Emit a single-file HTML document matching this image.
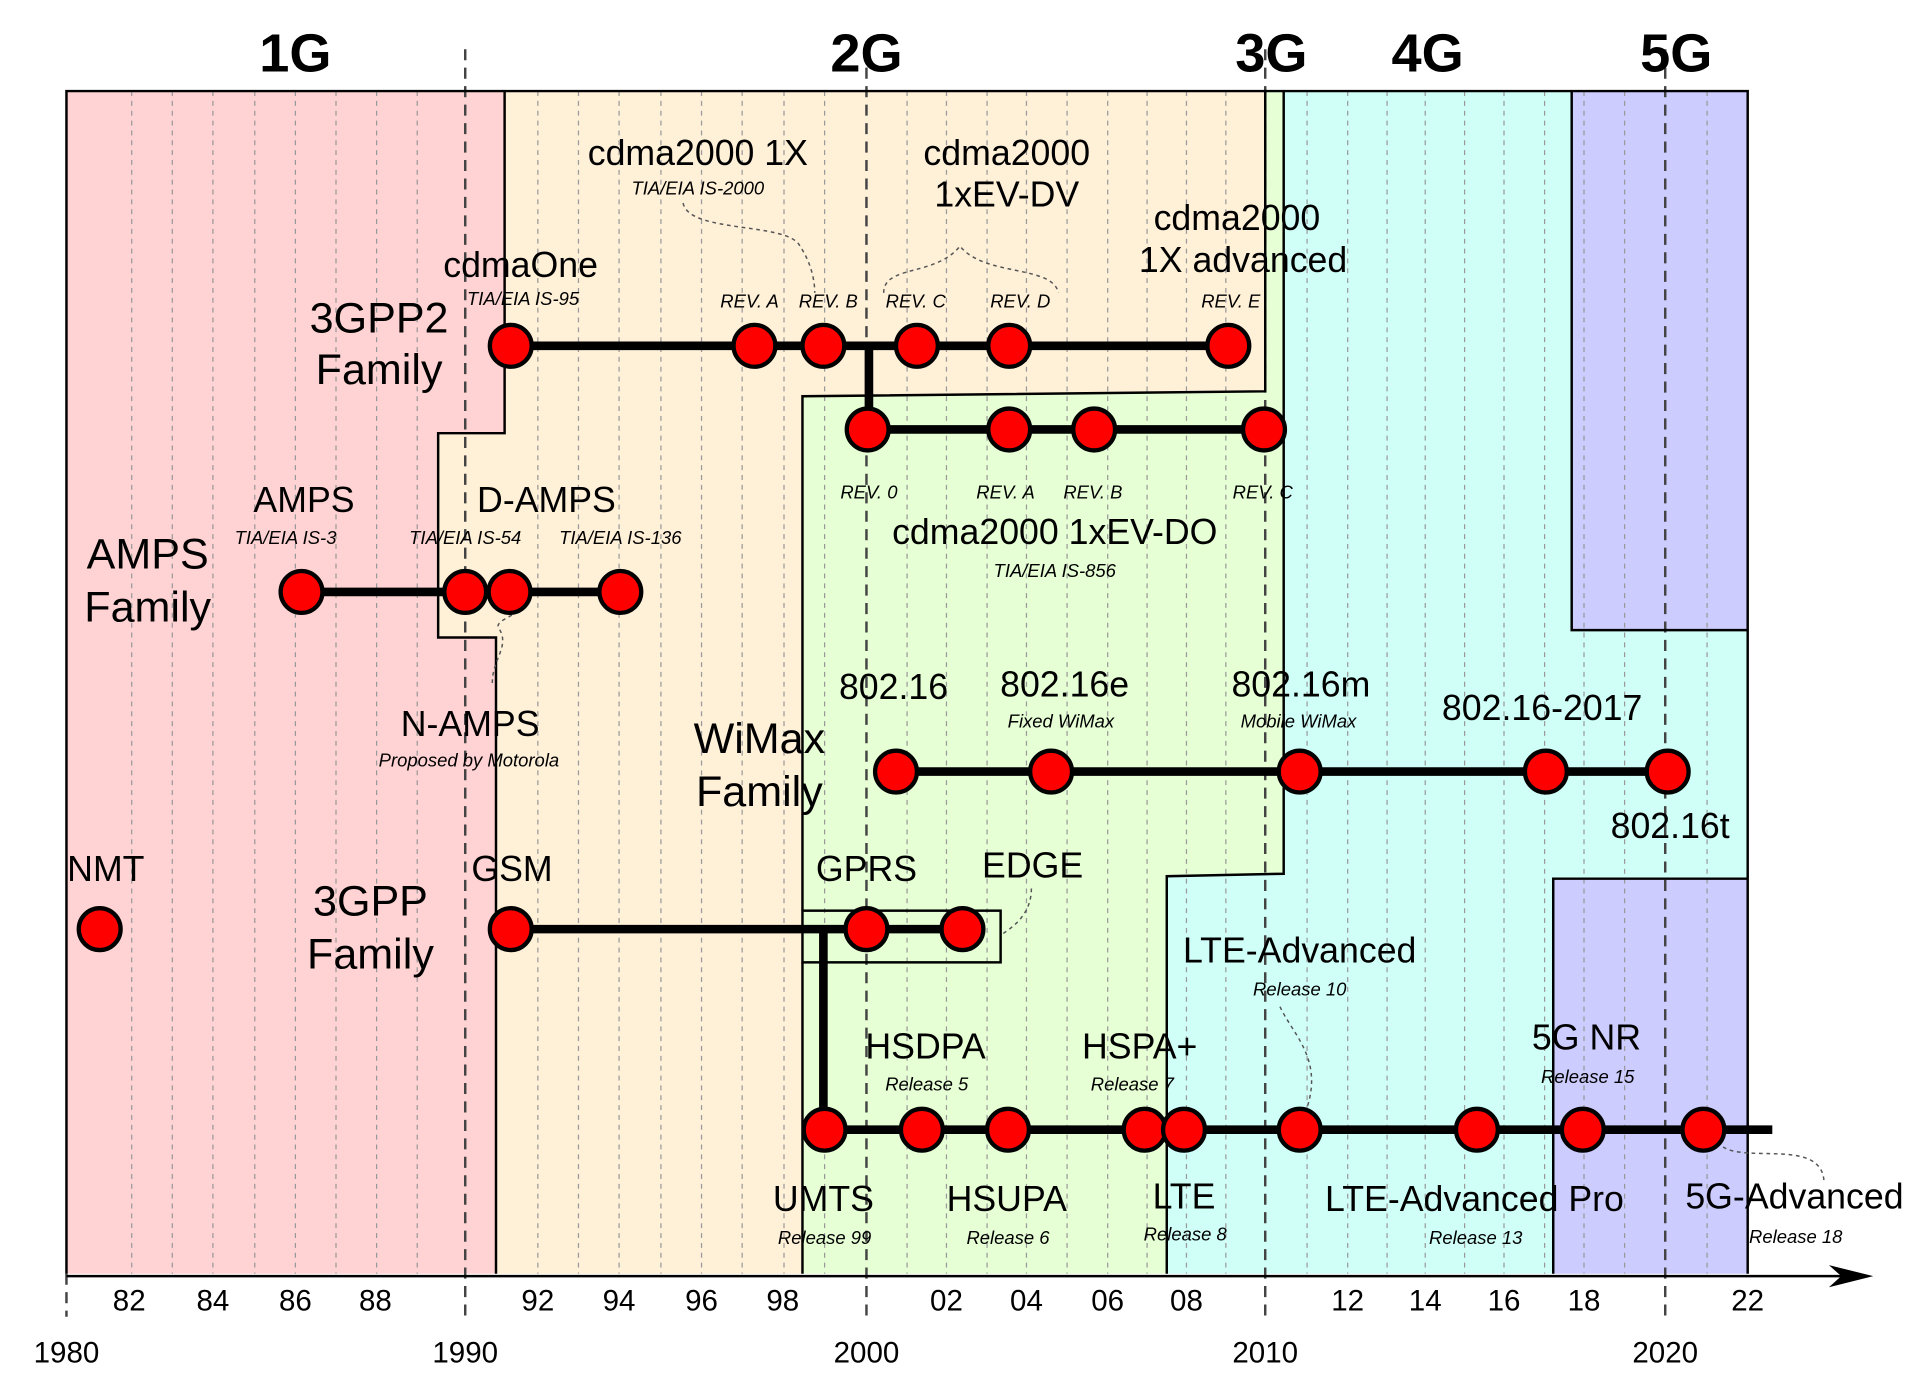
<!DOCTYPE html>
<html><head><meta charset="utf-8"><style>
html,body{margin:0;padding:0;background:#fff;}
svg{display:block;}
text{font-family:"Liberation Sans",sans-serif;fill:#000;}
.b{font-size:29px;}
.s{font-size:15px;font-style:italic;}
.h{font-size:44px;font-weight:bold;}
.ax{font-size:24px;}
.bg{font-size:35px;}
</style></head><body>
<svg width="1920" height="1382" viewBox="0 0 1560 1123" preserveAspectRatio="none" xmlns="http://www.w3.org/2000/svg">
<polygon points="54,74 410,74 410,352 356,352 356,518 403,518 403,1035 54,1035" fill="#ffd3d3"/>
<polygon points="410,74 1028,74 1028,318 652,322 652,1035 403,1035 403,518 356,518 356,352 410,352" fill="#fff0d8"/>
<polygon points="1028,74 1043,74 1043,710 948,712 948,1035 652,1035 652,322 1028,318" fill="#e6ffd5"/>
<polygon points="1043,74 1277,74 1277,512 1420,512 1420,714 1262,714 1262,1035 948,1035 948,712 1043,710" fill="#d0fff8"/>
<polygon points="1277,74 1420,74 1420,512 1277,512" fill="#ccccff"/>
<polygon points="1262,714 1420,714 1420,1035 1262,1035" fill="#ccccff"/>
<g stroke="#999" stroke-width="1" stroke-dasharray="4,4">
<line x1="107" y1="74" x2="107" y2="1035"/><line x1="140" y1="74" x2="140" y2="1035"/><line x1="173" y1="74" x2="173" y2="1035"/><line x1="207" y1="74" x2="207" y2="1035"/><line x1="240" y1="74" x2="240" y2="1035"/><line x1="273" y1="74" x2="273" y2="1035"/><line x1="306" y1="74" x2="306" y2="1035"/><line x1="339" y1="74" x2="339" y2="1035"/>
<line x1="437" y1="74" x2="437" y2="1035"/><line x1="470" y1="74" x2="470" y2="1035"/><line x1="503" y1="74" x2="503" y2="1035"/><line x1="537" y1="74" x2="537" y2="1035"/><line x1="570" y1="74" x2="570" y2="1035"/><line x1="603" y1="74" x2="603" y2="1035"/><line x1="637" y1="74" x2="637" y2="1035"/><line x1="670" y1="74" x2="670" y2="1035"/>
<line x1="737" y1="74" x2="737" y2="1035"/><line x1="769" y1="74" x2="769" y2="1035"/><line x1="802" y1="74" x2="802" y2="1035"/><line x1="834" y1="74" x2="834" y2="1035"/><line x1="867" y1="74" x2="867" y2="1035"/><line x1="900" y1="74" x2="900" y2="1035"/><line x1="932" y1="74" x2="932" y2="1035"/><line x1="964" y1="74" x2="964" y2="1035"/><line x1="996" y1="74" x2="996" y2="1035"/>
<line x1="1062" y1="74" x2="1062" y2="1035"/><line x1="1095" y1="74" x2="1095" y2="1035"/><line x1="1127" y1="74" x2="1127" y2="1035"/><line x1="1158" y1="74" x2="1158" y2="1035"/><line x1="1190" y1="74" x2="1190" y2="1035"/><line x1="1222" y1="74" x2="1222" y2="1035"/><line x1="1255" y1="74" x2="1255" y2="1035"/><line x1="1287" y1="74" x2="1287" y2="1035"/><line x1="1320" y1="74" x2="1320" y2="1035"/><line x1="1387" y1="74" x2="1387" y2="1035"/>
</g>
<g stroke="#444" stroke-width="2" stroke-dasharray="9,6">
<line x1="54" y1="1035" x2="54" y2="1070"/>
<line x1="378" y1="40" x2="378" y2="1070"/>
<line x1="704" y1="40" x2="704" y2="1070"/>
<line x1="1028" y1="40" x2="1028" y2="1070"/>
<line x1="1353" y1="40" x2="1353" y2="1070"/>
</g>
<g fill="none" stroke="#000" stroke-width="2">
<polyline points="54,1035 54,74 1420,74 1420,1035"/>
<polyline points="410,74 410,352 356,352 356,518 403,518 403,1035"/>
<polyline points="1028,74 1028,318 652,322 652,740"/>
<line x1="652" y1="782" x2="652" y2="1035"/>
<polyline points="1043,74 1043,710 948,712 948,1035"/>
<polyline points="1277,74 1277,512 1420,512"/>
<polyline points="1420,714 1262,714 1262,1035"/>
<rect x="652" y="740" width="161" height="42"/>
</g>
<line x1="54" y1="1037" x2="1510" y2="1037" stroke="#000" stroke-width="2"/>
<polygon points="1522,1037 1486,1028 1496,1037 1486,1046" fill="#000"/>
<g fill="none" stroke="#555" stroke-width="1.2" stroke-dasharray="3,3">
<path d="M555,165 C560,190 640,180 650,200 C660,215 662,230 662,238"/>
<path d="M718,238 C718,215 760,225 780,200 C800,225 855,215 860,238"/>
<path d="M400,555 C400,535 415,525 405,510 C402,505 418,500 418,498"/>
<path d="M838,722 C838,745 820,755 813,760"/>
<path d="M1040,818 C1050,840 1075,860 1062,900"/>
<path d="M1400,932 C1420,945 1480,925 1482,960"/>
</g>
<g stroke="#000" stroke-width="7" fill="none">
<line x1="415" y1="281" x2="998" y2="281"/>
<line x1="706" y1="281" x2="706" y2="349"/>
<line x1="705" y1="349" x2="1027" y2="349"/>
<line x1="245" y1="481" x2="504" y2="481"/>
<line x1="728" y1="627" x2="1355" y2="627"/>
<line x1="415" y1="755" x2="782" y2="755"/>
<line x1="669" y1="755" x2="669" y2="918"/>
<line x1="670" y1="918" x2="1440" y2="918"/>
</g>
<g fill="#f00" stroke="#000" stroke-width="3.5">
<circle cx="415" cy="281" r="17"/><circle cx="613" cy="281" r="17"/><circle cx="669" cy="281" r="17"/><circle cx="745" cy="281" r="17"/><circle cx="820" cy="281" r="17"/><circle cx="998" cy="281" r="17"/>
<circle cx="705" cy="349" r="17"/><circle cx="820" cy="349" r="17"/><circle cx="889" cy="349" r="17"/><circle cx="1027" cy="349" r="17"/>
<circle cx="245" cy="481" r="17"/><circle cx="378" cy="481" r="17"/><circle cx="414" cy="481" r="17"/><circle cx="504" cy="481" r="17"/>
<circle cx="728" cy="627" r="17"/><circle cx="854" cy="627" r="17"/><circle cx="1056" cy="627" r="17"/><circle cx="1256" cy="627" r="17"/><circle cx="1355" cy="627" r="17"/>
<circle cx="81" cy="755" r="17"/><circle cx="415" cy="755" r="17"/><circle cx="704" cy="755" r="17"/><circle cx="782" cy="755" r="17"/>
<circle cx="670" cy="918" r="17"/><circle cx="749" cy="918" r="17"/><circle cx="819" cy="918" r="17"/><circle cx="930" cy="918" r="17"/><circle cx="962" cy="918" r="17"/><circle cx="1056" cy="918" r="17"/><circle cx="1200" cy="918" r="17"/><circle cx="1286" cy="918" r="17"/><circle cx="1384" cy="918" r="17"/>
</g>
<g text-anchor="middle">
<text x="240" y="58" class="h">1G</text><text x="704" y="58" class="h">2G</text><text x="1033" y="58" class="h">3G</text><text x="1160" y="58" class="h">4G</text><text x="1362" y="58" class="h">5G</text>
</g>
<g class="ax" text-anchor="middle">
<text x="105" y="1065">82</text><text x="173" y="1065">84</text><text x="240" y="1065">86</text><text x="305" y="1065">88</text><text x="437" y="1065">92</text><text x="503" y="1065">94</text><text x="570" y="1065">96</text><text x="636" y="1065">98</text><text x="769" y="1065">02</text><text x="834" y="1065">04</text><text x="900" y="1065">06</text><text x="964" y="1065">08</text><text x="1095" y="1065">12</text><text x="1158" y="1065">14</text><text x="1222" y="1065">16</text><text x="1287" y="1065">18</text><text x="1420" y="1065">22</text>
<text x="54" y="1107">1980</text><text x="378" y="1107">1990</text><text x="704" y="1107">2000</text><text x="1028" y="1107">2010</text><text x="1353" y="1107">2020</text>
</g>
<g class="bg" text-anchor="middle">
<text x="308" y="270">3GPP2</text><text x="308" y="312">Family</text>
<text x="120" y="462">AMPS</text><text x="120" y="505">Family</text>
<text x="617" y="612">WiMax</text><text x="617" y="655">Family</text>
<text x="301" y="744">3GPP</text><text x="301" y="787">Family</text>
</g>
<g class="b" text-anchor="middle">
<text x="567" y="134">cdma2000 1X</text>
<text x="818" y="134">cdma2000</text><text x="818" y="168">1xEV-DV</text>
<text x="1005" y="187">cdma2000</text><text x="1010" y="221">1X advanced</text>
<text x="423" y="225">cdmaOne</text>
<text x="247" y="416">AMPS</text><text x="444" y="416">D-AMPS</text>
<text x="857" y="442">cdma2000 1xEV-DO</text>
<text x="382" y="598">N-AMPS</text>
<text x="726" y="568">802.16</text><text x="865" y="566">802.16e</text><text x="1057" y="566">802.16m</text><text x="1253" y="585">802.16-2017</text><text x="1357" y="681">802.16t</text>
<text x="86" y="716">NMT</text><text x="416" y="716">GSM</text><text x="704" y="716">GPRS</text><text x="839" y="713">EDGE</text>
<text x="1056" y="782">LTE-Advanced</text>
<text x="752" y="860">HSDPA</text><text x="926" y="860">HSPA+</text><text x="1289" y="853">5G NR</text>
<text x="669" y="984">UMTS</text><text x="818" y="984">HSUPA</text><text x="962" y="982">LTE</text><text x="1198" y="984">LTE-Advanced Pro</text><text x="1458" y="982">5G-Advanced</text>
</g>
<g class="s" text-anchor="middle">
<text x="567" y="158">TIA/EIA IS-2000</text>
<text x="425" y="248">TIA/EIA IS-95</text>
<text x="609" y="250">REV. A</text><text x="673" y="250">REV. B</text><text x="744" y="250">REV. C</text><text x="829" y="250">REV. D</text><text x="1000" y="250">REV. E</text>
<text x="706" y="405">REV. 0</text><text x="817" y="405">REV. A</text><text x="888" y="405">REV. B</text><text x="1026" y="405">REV. C</text>
<text x="857" y="469">TIA/EIA IS-856</text>
<text x="232" y="442">TIA/EIA IS-3</text><text x="378" y="442">TIA/EIA IS-54</text><text x="504" y="442">TIA/EIA IS-136</text>
<text x="381" y="623">Proposed by Motorola</text>
<text x="862" y="591">Fixed WiMax</text><text x="1055" y="591">Mobile WiMax</text>
<text x="1056" y="809">Release 10</text>
<text x="753" y="886">Release 5</text><text x="920" y="886">Release 7</text><text x="1290" y="880">Release 15</text>
<text x="670" y="1011">Release 99</text><text x="819" y="1011">Release 6</text><text x="963" y="1008">Release 8</text><text x="1199" y="1011">Release 13</text><text x="1459" y="1010">Release 18</text>
</g>
</svg>
</body></html>
